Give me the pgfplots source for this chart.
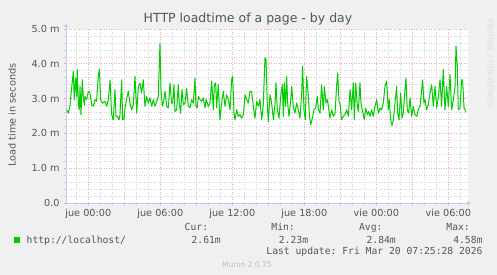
\documentclass[border=0pt]{standalone}
\usepackage{pgfplots}
\pgfplotsset{compat=1.18}
\usepackage{pgfplotstable}
\usepackage{fontspec}
\setmainfont{DejaVu Sans}
\setmonofont{DejaVu Sans Mono}
\usetikzlibrary{arrows.meta}
\definecolor{bg}{HTML}{F0F0F0}
\definecolor{txt}{HTML}{555555}
\definecolor{axisblue}{HTML}{C8C8F8}
\definecolor{gridred}{HTML}{F0A8A8}
\definecolor{gridgrey}{HTML}{D4D4D4}
\definecolor{ln}{HTML}{00CC00}
\newcommand\axf{\fontsize{9.7bp}{11bp}\selectfont}

\pgfplotstableread{
h v
-1.81 2.68
-1.67 2.58
-1.53 2.78
-1.39 3.30
-1.25 3.78
-1.17 2.97
-1.06 3.59
-0.97 3.06
-0.92 3.83
-0.83 2.87
-0.75 2.68
-0.69 3.35
-0.61 2.54
-0.50 3.54
-0.42 3.06
-0.33 2.82
-0.28 3.06
-0.14 2.97
0.00 3.21
0.14 3.16
0.28 2.82
0.42 2.78
0.56 2.97
0.69 2.92
0.83 3.64
0.92 3.85
1.03 2.97
1.19 2.87
1.39 2.92
1.53 2.78
1.67 2.97
1.81 3.54
1.94 2.54
2.08 2.39
2.22 3.26
2.31 2.49
2.42 2.49
2.56 2.39
2.64 2.54
2.78 3.54
2.86 2.39
2.97 2.39
3.06 2.73
3.19 2.97
3.33 3.21
3.47 2.87
3.61 2.68
3.75 2.82
3.89 3.64
4.03 2.58
4.17 3.35
4.31 3.45
4.44 3.16
4.58 3.54
4.72 2.78
4.86 3.06
5.00 2.87
5.14 3.02
5.28 2.78
5.42 2.97
5.56 2.78
5.69 2.92
5.83 3.06
5.92 4.03
5.97 4.58
6.06 3.21
6.17 2.78
6.25 2.87
6.39 3.21
6.53 2.78
6.67 2.73
6.81 3.45
6.94 2.87
7.03 2.87
7.14 3.40
7.22 2.63
7.36 2.68
7.50 3.40
7.58 2.87
7.69 2.58
7.81 3.26
7.92 2.82
8.06 2.87
8.19 3.30
8.33 2.78
8.47 2.73
8.61 2.97
8.75 2.87
8.89 3.59
8.97 2.78
9.08 2.73
9.17 3.06
9.31 2.97
9.44 2.92
9.58 3.02
9.72 2.73
9.81 2.97
9.92 2.87
10.00 2.78
10.14 2.87
10.28 3.50
10.42 2.68
10.50 3.40
10.61 3.45
10.69 2.73
10.83 3.40
10.97 2.39
11.11 2.87
11.25 3.21
11.39 2.78
11.53 3.11
11.67 2.97
11.81 2.68
11.94 3.54
12.03 3.64
12.14 2.58
12.22 2.39
12.36 2.68
12.50 2.49
12.64 2.54
12.78 2.44
12.92 2.54
13.06 3.11
13.19 2.97
13.33 2.87
13.47 3.21
13.61 3.21
13.75 2.78
13.89 2.44
14.03 2.92
14.17 2.78
14.31 2.97
14.44 2.39
14.58 2.82
14.72 4.17
14.81 4.12
14.92 2.78
15.00 2.34
15.14 3.11
15.28 2.87
15.42 2.39
15.56 2.87
15.64 3.45
15.75 2.68
15.89 2.44
16.03 3.06
16.17 3.40
16.25 2.49
16.33 3.45
16.44 2.78
16.53 3.64
16.61 2.87
16.72 2.49
16.86 2.92
16.94 3.35
17.08 2.78
17.22 2.58
17.36 2.87
17.50 2.68
17.64 2.44
17.78 3.16
17.86 3.93
17.97 2.68
18.08 2.39
18.19 3.64
18.33 3.11
18.42 2.54
18.53 2.25
18.67 2.44
18.81 2.68
18.94 2.73
19.08 3.06
19.17 2.68
19.31 2.58
19.44 3.40
19.58 2.68
19.67 3.35
19.81 2.87
19.92 2.97
20.00 2.78
20.14 2.44
20.28 2.68
20.42 2.49
20.56 2.58
20.69 3.35
20.78 3.74
20.89 2.92
20.97 2.87
21.11 2.39
21.25 2.49
21.39 2.54
21.53 2.68
21.67 2.49
21.81 3.26
21.94 2.68
22.08 3.45
22.17 2.39
22.28 3.45
22.42 2.78
22.50 2.63
22.64 3.45
22.72 2.87
22.86 2.63
23.00 2.39
23.11 2.73
23.25 2.54
23.36 2.63
23.47 2.49
23.61 2.68
23.75 2.49
23.89 2.78
24.03 2.97
24.17 2.58
24.31 2.73
24.44 2.68
24.58 2.87
24.72 3.35
24.86 3.50
25.00 2.68
25.08 2.97
25.19 2.39
25.31 2.23
25.42 2.39
25.56 2.87
25.69 3.35
25.78 2.58
25.89 2.39
26.03 3.16
26.14 2.44
26.25 2.58
26.39 3.26
26.47 3.59
26.58 2.68
26.69 2.58
26.81 3.02
26.94 2.49
27.08 2.78
27.22 2.54
27.36 2.49
27.50 2.68
27.64 2.78
27.78 3.26
27.86 3.54
27.97 2.87
28.06 2.97
28.19 2.68
28.33 2.82
28.47 3.16
28.61 3.40
28.75 2.78
28.89 3.35
29.03 2.73
29.17 3.06
29.31 3.54
29.44 2.78
29.58 3.83
29.72 2.68
29.86 3.35
30.00 2.78
30.14 3.69
30.28 2.68
30.42 2.97
30.56 3.35
30.64 4.51
30.75 3.93
30.83 2.68
30.97 2.73
31.11 3.54
31.19 3.54
31.31 2.73
31.39 2.68
31.47 2.61
}\loadtime

\begin{document}
\begin{tikzpicture}
\path[use as bounding box, fill=bg] (0,0) rectangle (497bp,275bp);
\begin{axis}[
  at={(66bp,72bp)}, anchor=south west,
  scale only axis, width=402bp, height=174bp,
  xmin=-1.86, xmax=31.64, ymin=0, ymax=5,
  axis background/.style={fill=white},
  axis x line*=bottom, axis y line*=left,
  x axis line style={draw=axisblue, line width=0.8bp, shorten >=-3bp, -{Triangle[length=4bp,width=4bp]}},
  y axis line style={draw=axisblue, line width=0.8bp, shorten >=-6bp, -{Triangle[length=4bp,width=4bp]}},
  xtick={0,3,...,30},
  xticklabels={jue 00:00,,jue 06:00,,jue 12:00,,jue 18:00,,vie 00:00,,vie 06:00},
  minor xtick={-1,1,2,4,5,7,8,10,11,13,14,16,17,19,20,22,23,25,26,28,29,31},
  ytick={0,1,2,3,4,5},
  yticklabels={0.0\hspace{6.5bp},1.0 m,2.0 m,3.0 m,4.0 m,5.0 m},
  minor ytick={0.2,0.4,0.6,0.8,1.2,1.4,1.6,1.8,2.2,2.4,2.6,2.8,3.2,3.4,3.6,3.8,4.2,4.4,4.6,4.8},
  grid=both,
  major grid style={draw=gridred, line width=0.6bp, dash pattern=on 1bp off 1.5bp},
  minor grid style={draw=gridgrey, line width=0.6bp, dash pattern=on 1bp off 1.5bp},
  tick align=outside, major tick length=2bp, minor tick length=2bp,
  major tick style={draw=gridred, line width=0.6bp},
  minor tick style={draw=gridgrey, line width=0.6bp},
  ticklabel style={font=\axf, text=txt},
  xticklabel style={yshift=-1bp},
  yticklabel style={xshift=-1bp},
  clip=false,
]
\addplot[ln, line width=1bp, line join=round] table[x=h, y=v] {\loadtime};
\end{axis}
% titles and labels
\node[text=txt, font=\fontsize{12.5bp}{14bp}\selectfont] at (248bp,256bp) {HTTP loadtime of a page - by day};
\node[text=txt, font=\axf, rotate=90] at (12bp,160bp) {Load time in seconds};
\node[text=gridgrey!80!white, font=\fontsize{7bp}{8bp}\selectfont, rotate=-90, anchor=west] at (490bp,260bp) {RRDTOOL / TOBI OETIKER};
% legend
\fill[ln] (14bp,32.3bp) rectangle (19.5bp,37.8bp);
\node[text=txt, font=\axf\ttfamily, anchor=base west, inner sep=0pt] at (26.5bp,32bp) {http://localhost/};
\node[text=txt, font=\axf\ttfamily, anchor=base east, inner sep=0pt] at (208.3bp,44bp) {Cur:};
\node[text=txt, font=\axf\ttfamily, anchor=base east, inner sep=0pt] at (295bp,44bp) {Min:};
\node[text=txt, font=\axf\ttfamily, anchor=base east, inner sep=0pt] at (382.7bp,44bp) {Avg:};
\node[text=txt, font=\axf\ttfamily, anchor=base east, inner sep=0pt] at (470bp,44bp) {Max:};
\node[text=txt, font=\axf\ttfamily, anchor=base east, inner sep=0pt] at (221bp,32bp) {2.61m};
\node[text=txt, font=\axf\ttfamily, anchor=base east, inner sep=0pt] at (308.3bp,32bp) {2.23m};
\node[text=txt, font=\axf\ttfamily, anchor=base east, inner sep=0pt] at (396bp,32bp) {2.84m};
\node[text=txt, font=\axf\ttfamily, anchor=base east, inner sep=0pt] at (482.7bp,32bp) {4.58m};
\node[text=txt, font=\axf\ttfamily, anchor=base east, inner sep=0pt] at (482.7bp,20.5bp) {Last update: Fri Mar 20 07:25:28 2026};
\node[text=black!25, font=\fontsize{7.6bp}{9bp}\selectfont] at (247bp,10bp) {Munin 2.0.75};
\end{tikzpicture}
\end{document}
